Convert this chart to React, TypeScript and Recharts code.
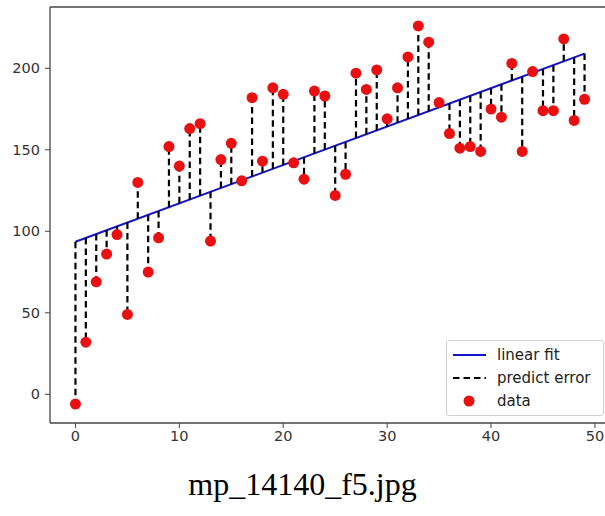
import React from 'react'
import { ComposedChart, Line, Scatter, XAxis, YAxis } from 'recharts'

// observation index and measured values
const xValues = [
  0, 1, 2, 3, 4, 5, 6, 7, 8, 9,
  10, 11, 12, 13, 14, 15, 16, 17, 18, 19,
  20, 21, 22, 23, 24, 25, 26, 27, 28, 29,
  30, 31, 32, 33, 34, 35, 36, 37, 38, 39,
  40, 41, 42, 43, 44, 45, 46, 47, 48, 49,
]
const yValues = [
  -6, 32, 69, 86, 98, 49, 130, 75, 96, 152,
  140, 163, 166, 94, 144, 154, 131, 182, 143, 188,
  184, 142, 132, 186, 183, 122, 135, 197, 187, 199,
  169, 188, 207, 226, 216, 179, 160, 151, 152, 149,
  175, 170, 203, 149, 198, 174, 174, 218, 168, 181,
]

// linear fit end points
const fitX = [0, 49]
const fitY = [93.6, 209]

const xTicks = [0, 10, 20, 30, 40, 50]
const yTicks = [0, 50, 100, 150, 200]

const fitAt = (x: number) => fitY[0] + ((fitY[1] - fitY[0]) * (x - fitX[0])) / (fitX[1] - fitX[0])

const scatterData = xValues.map((x, i) => ({ x, y: yValues[i] }))
const fitData = fitX.map((x, i) => ({ x, y: fitY[i] }))
const errorData = xValues.flatMap((x, i) => [
  { x, y: fitAt(x) },
  { x, y: yValues[i] },
  { x, y: null },
])

const tickStyle = { fontFamily: 'DejaVu Sans', fontSize: 14.5, fill: '#333' }

const Dot = (props: any) => {
  const { cx, cy } = props
  return <circle cx={cx} cy={cy} r={5.5} fill="#e81010" />
}

const App = () => {
  return (
    <div style={{ position: 'absolute', left: 0, top: 0, width: 605, height: 516, overflow: 'hidden', background: '#fff' }}>
      <ComposedChart width={610} height={460} margin={{ top: 6, right: 0, bottom: 0, left: 0 }}>
        <XAxis
          xAxisId="top"
          orientation="top"
          type="number"
          dataKey="x"
          domain={[-2.45, 51.45]}
          height={1}
          tick={false}
          tickLine={false}
          axisLine={{ stroke: '#444', strokeWidth: 1.3 }}
        />
        <XAxis
          type="number"
          dataKey="x"
          domain={[-2.45, 51.45]}
          ticks={xTicks}
          height={37}
          tickSize={5}
          tickMargin={3}
          tick={tickStyle}
          stroke="#444"
          axisLine={{ stroke: '#444', strokeWidth: 1.3 }}
        />
        <YAxis
          type="number"
          dataKey="y"
          domain={[-17.6, 237.6]}
          ticks={yTicks}
          width={50}
          tickSize={5}
          tickMargin={5}
          tick={tickStyle}
          stroke="#444"
          axisLine={{ stroke: '#444', strokeWidth: 1.3 }}
        />
        <Line
          data={fitData}
          dataKey="y"
          type="linear"
          stroke="#1414c8"
          strokeWidth={2}
          dot={false}
          isAnimationActive={false}
        />
        <Line
          data={errorData}
          dataKey="y"
          type="linear"
          stroke="#000"
          strokeWidth={2.2}
          strokeDasharray="6.5 4"
          dot={false}
          isAnimationActive={false}
        />
        <Scatter data={scatterData} dataKey="y" shape={<Dot />} isAnimationActive={false} />
      </ComposedChart>

      <div
        style={{
          position: 'absolute',
          left: 446,
          top: 340,
          width: 156,
          height: 74,
          border: '1px solid #d0d0d0',
          borderRadius: 3,
          background: 'rgba(255,255,255,0.8)',
          fontFamily: 'DejaVu Sans',
          fontSize: 15,
          color: '#222',
        }}
      >
        {[
          { label: 'linear fit', kind: 'line' },
          { label: 'predict error', kind: 'dash' },
          { label: 'data', kind: 'dot' },
        ].map((item, i) => (
          <div key={item.label} style={{ position: 'absolute', left: 0, top: 3 + i * 23, height: 22, display: 'flex', alignItems: 'center' }}>
            <svg width={50} height={22}>
              {item.kind === 'line' && <line x1={6} x2={39} y1={11} y2={11} stroke="#1414c8" strokeWidth={2} />}
              {item.kind === 'dash' && <line x1={6} x2={39} y1={11} y2={11} stroke="#000" strokeWidth={2.2} strokeDasharray="6.5 4" />}
              {item.kind === 'dot' && <circle cx={22} cy={11} r={5.5} fill="#e81010" />}
            </svg>
            <span style={{ whiteSpace: 'nowrap' }}>{item.label}</span>
          </div>
        ))}
      </div>

      <div
        style={{
          position: 'absolute',
          left: 0,
          top: 466,
          width: 605,
          textAlign: 'center',
          fontFamily: 'Liberation Serif',
          fontSize: 32,
          color: '#000',
        }}
      >
        mp_14140_f5.jpg
      </div>
    </div>
  )
}

export default App
